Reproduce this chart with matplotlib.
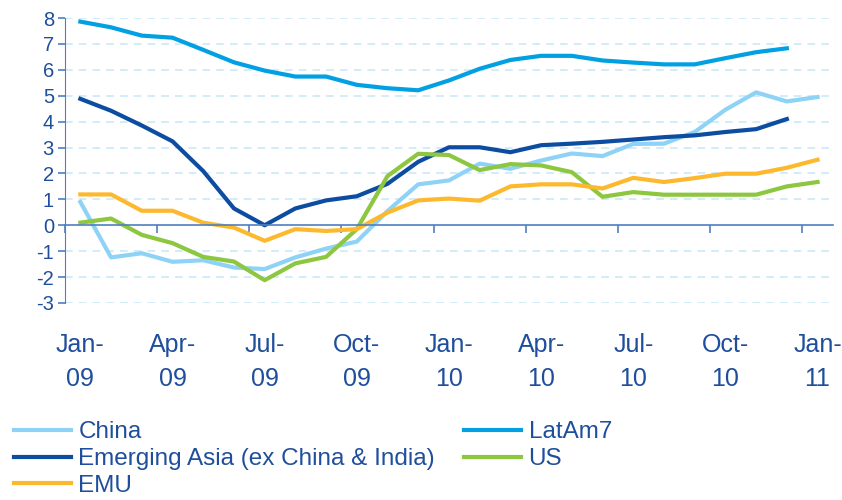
import matplotlib.pyplot as plt
import numpy as np

plt.rcParams['font.family'] = ['Liberation Sans', 'DejaVu Sans']
plt.rcParams['axes.unicode_minus'] = False

# monthly, Jan-09 .. Jan-11
months = ['Jan-09', 'Feb-09', 'Mar-09', 'Apr-09', 'May-09', 'Jun-09', 'Jul-09', 'Aug-09',
          'Sep-09', 'Oct-09', 'Nov-09', 'Dec-09', 'Jan-10', 'Feb-10', 'Mar-10', 'Apr-10',
          'May-10', 'Jun-10', 'Jul-10', 'Aug-10', 'Sep-10', 'Oct-10', 'Nov-10', 'Dec-10',
          'Jan-11']
tick_labels = ['Jan-\n09', 'Apr-\n09', 'Jul-\n09', 'Oct-\n09', 'Jan-\n10',
               'Apr-\n10', 'Jul-\n10', 'Oct-\n10', 'Jan-\n11']

china = [0.9, -1.24, -1.08, -1.41, -1.35, -1.63, -1.69, -1.24, -0.9, -0.63, 0.55, 1.58,
         1.73, 2.38, 2.18, 2.5, 2.77, 2.67, 3.14, 3.15, 3.6, 4.46, 5.13, 4.78, 4.95]
latam7 = [7.86, 7.64, 7.32, 7.24, 6.77, 6.29, 5.97, 5.74, 5.74, 5.42, 5.29, 5.21,
          5.59, 6.04, 6.38, 6.54, 6.54, 6.36, 6.28, 6.21, 6.21, 6.45, 6.68, 6.83, np.nan]
em_asia = [4.88, 4.42, 3.85, 3.24, 2.09, 0.65, 0.0, 0.65, 0.96, 1.12, 1.6, 2.45,
           3.01, 3.01, 2.82, 3.09, 3.15, 3.22, 3.31, 3.4, 3.47, 3.6, 3.71, 4.1, np.nan]
us = [0.1, 0.26, -0.37, -0.69, -1.22, -1.4, -2.12, -1.47, -1.22, -0.15, 1.9, 2.76,
      2.71, 2.13, 2.36, 2.31, 2.05, 1.1, 1.28, 1.18, 1.18, 1.18, 1.18, 1.5, 1.67]
emu = [1.19, 1.19, 0.56, 0.56, 0.1, -0.09, -0.6, -0.15, -0.22, -0.15, 0.49, 0.96,
       1.03, 0.95, 1.5, 1.58, 1.58, 1.42, 1.83, 1.67, 1.82, 1.99, 1.99, 2.22, 2.53]

txt = '#1F4E9C'
axis_col = '#4F7FC0'

fig = plt.figure(figsize=(8.42, 5.0), dpi=100)
ax = fig.add_axes([0.0772, 0.394, 0.912, 0.570])

x = np.arange(len(months))
lw = 3.0
l_china, = ax.plot(x, china, color='#8ED3F5', lw=lw, label='China')
l_latam, = ax.plot(x, latam7, color='#00A0E3', lw=lw, label='LatAm7')
l_asia, = ax.plot(x, em_asia, color='#0D4DA1', lw=lw, label='Emerging Asia (ex China & India)')
l_us, = ax.plot(x, us, color='#8DC63F', lw=lw, label='US')
l_emu, = ax.plot(x, emu, color='#FDB92E', lw=lw, label='EMU')

ax.set_xlim(-0.5, len(months) - 0.5)
ax.set_ylim(-3, 8)
ax.set_yticks(range(-3, 9))
for v in range(-3, 9):
    if v != 0:
        ax.axhline(v, color='#C5E8F8', lw=1.1, ls=(0, (5, 4)), zorder=0)

for s in ['top', 'right']:
    ax.spines[s].set_visible(False)
ax.spines['left'].set_color(axis_col)
ax.spines['bottom'].set_position(('data', 0))
ax.spines['bottom'].set_color(axis_col)
ax.spines['bottom'].set_linewidth(1.2)

ax.set_xticks(np.arange(-0.5, len(months) - 1, 3))
ax.set_xticklabels([])
ax.tick_params(axis='x', direction='out', length=6, color=axis_col, width=1.2)
ax.tick_params(axis='y', direction='out', length=5, color=axis_col, width=1.2,
               labelsize=14.5, labelcolor=txt, pad=3)

for i, lab in enumerate(tick_labels):
    ax.text(i * 3, -0.207, lab, transform=ax.get_xaxis_transform(), ha='center',
            va='center', fontsize=18, color=txt, linespacing=1.55)

leg = fig.legend(handles=[l_china, l_asia, l_emu, l_latam, l_us], ncol=2,
                 loc='upper left', bbox_to_anchor=(0.005, 0.177), frameon=False,
                 fontsize=17.5, handlelength=2.35, handletextpad=0.3,
                 labelspacing=0.2, columnspacing=1.2, borderaxespad=0)
for t in leg.get_texts():
    t.set_color(txt)

fig.savefig('out.png', dpi=100)
